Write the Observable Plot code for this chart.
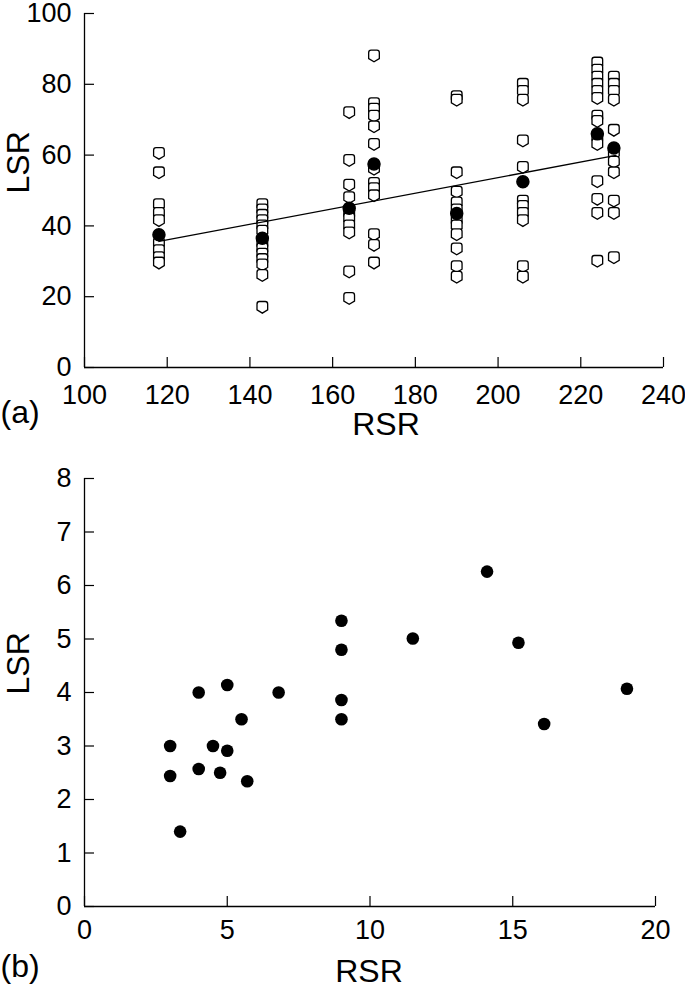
<!DOCTYPE html>
<html>
<head>
<meta charset="utf-8">
<script src="https://cdn.jsdelivr.net/npm/d3@7"></script>
<script src="https://cdn.jsdelivr.net/npm/@observablehq/plot@0.6"></script>
<style>
  html, body { margin: 0; padding: 0; background: #fff; }
  #chart svg { display: block; overflow: visible; }
</style>
</head>
<body>
<div id="chart"></div>
<script>
// ---- Panel (a) data ----
const groupRSR = [118, 143, 164, 170, 190, 206, 224, 228];
const openLSR = [
  [60.5, 55, 46, 43.5, 41.5, 35, 33, 31, 29.5],
  [46, 44.5, 43, 41.5, 40, 38.5, 35, 33.5, 32, 30.5, 29, 26, 17],
  [72, 58.5, 51.5, 48, 43.5, 42, 40, 38, 27, 19.5],
  [88, 74.5, 73, 71, 68, 63, 56, 52, 50.5, 48.5, 37.5, 34.5, 29.5],
  [76.5, 75.5, 55, 49.5, 46.5, 44.5, 41.5, 40, 37.5, 33.5, 28.5, 25.5],
  [80, 78, 75.5, 64, 56.5, 47, 45.5, 43.5, 41.5, 28.5, 25.5],
  [86, 84, 82, 80, 78, 76, 71, 69.5, 65, 63, 52.5, 47.5, 43.5, 30],
  [82, 80, 78, 75.5, 67, 60.5, 58, 55, 47, 43.5, 31]
];
const meanLSR = [37.5, 36.5, 45, 57.5, 43.5, 52.5, 66, 62];
const fitRSR = [118, 228.5];
const fitLSR = [35.6, 59.9];
const ticksXa = [100, 120, 140, 160, 180, 200, 220, 240];
const ticksYa = [0, 20, 40, 60, 80, 100];

// ---- Panel (b) data ----
const rsrB = [3, 3, 3.35, 4, 4, 4.5, 4.75, 5, 5, 5.5, 5.7, 6.8, 9, 9, 9, 9, 11.5, 14.1, 15.2, 16.1, 19];
const lsrB = [3.0, 2.44, 1.4, 4.0, 2.57, 3.0, 2.5, 4.14, 2.91, 3.5, 2.34, 4.0, 5.34, 4.8, 3.86, 3.5, 5.01, 6.26, 4.93, 3.41, 4.07];
const ticksXb = [0, 5, 10, 15, 20];
const ticksYb = [0, 1, 2, 3, 4, 5, 6, 7, 8];

// ---- tables built from the arrays ----
const openPts = groupRSR.flatMap((x, i) => openLSR[i].map(y => ({x, y})));
const meanPts = groupRSR.map((x, i) => ({x, y: meanLSR[i]}));
const fitPts = fitRSR.map((x, i) => ({x, y: fitLSR[i]}));
const ptsB = rsrB.map((x, i) => ({x, y: lsrB[i]}));

const shield = {
  draw(ctx, size) {
    const r = Math.sqrt(size / Math.PI);
    const w = r * 0.92, h = r;
    ctx.moveTo(-w, -h * 0.55);
    ctx.quadraticCurveTo(-w, -h, -w * 0.55, -h);
    ctx.lineTo(w * 0.55, -h);
    ctx.quadraticCurveTo(w, -h, w, -h * 0.55);
    ctx.lineTo(w, h * 0.45);
    ctx.lineTo(0, h);
    ctx.lineTo(-w, h * 0.45);
    ctx.closePath();
  }
};

const font = "'Liberation Sans', Arial, Helvetica, sans-serif";
const baseStyle = {fontFamily: font, fontSize: "27px", color: "black", background: "white"};

const plotA = Plot.plot({
  width: 685, height: 450,
  marginLeft: 84, marginRight: 22, marginTop: 13, marginBottom: 83,
  x: {domain: [100, 240]},
  y: {domain: [0, 100]},
  style: baseStyle,
  marks: [
    Plot.ruleX([100], {stroke: "black", strokeWidth: 1.3}),
    Plot.ruleY([0], {stroke: "black", strokeWidth: 1.3}),
    Plot.axisX({ticks: ticksXa, tickSize: -10, tickPadding: 27, label: null, stroke: "black", strokeWidth: 1.2}),
    Plot.axisY({ticks: ticksYa, tickSize: -10, tickPadding: 23, label: null, stroke: "black", strokeWidth: 1.2}),
    Plot.dot(openPts, {x: "x", y: "y", symbol: shield, r: 5.8, fill: "white", stroke: "black", strokeWidth: 1.3}),
    Plot.line(fitPts, {x: "x", y: "y", stroke: "black", strokeWidth: 1.3}),
    Plot.dot(meanPts, {x: "x", y: "y", r: 6, fill: "black", stroke: "black"}),
    Plot.text(["LSR"], {frameAnchor: "left", rotate: -90, dx: -66, dy: 3, fontSize: 32}),
    Plot.text(["RSR"], {frameAnchor: "bottom", dx: 12, dy: 67, fontSize: 32}),
    Plot.text(["(a)"], {frameAnchor: "bottom-left", textAnchor: "start", dx: -84, dy: 55, fontSize: 32})
  ]
});

const plotB = Plot.plot({
  width: 685, height: 544,
  marginLeft: 84, marginRight: 30, marginTop: 28, marginBottom: 88,
  x: {domain: [0, 20]},
  y: {domain: [0, 8]},
  style: baseStyle,
  marks: [
    Plot.ruleX([0], {stroke: "black", strokeWidth: 1.3}),
    Plot.ruleY([0], {stroke: "black", strokeWidth: 1.3}),
    Plot.axisX({ticks: ticksXb, tickSize: -10, tickPadding: 23, label: null, stroke: "black", strokeWidth: 1.2}),
    Plot.axisY({ticks: ticksYb, tickSize: -10, tickPadding: 23, label: null, stroke: "black", strokeWidth: 1.2}),
    Plot.dot(ptsB, {x: "x", y: "y", r: 6.3, fill: "black", stroke: "none"}),
    Plot.text(["LSR"], {frameAnchor: "left", rotate: -90, dx: -66, dy: 2, fontSize: 32}),
    Plot.text(["RSR"], {frameAnchor: "bottom", dx: -1, dy: 75, fontSize: 32}),
    Plot.text(["(b)"], {frameAnchor: "bottom-left", textAnchor: "start", dx: -84, dy: 70, fontSize: 32})
  ]
});

document.getElementById("chart").append(plotA, plotB);
</script>
</body>
</html>
